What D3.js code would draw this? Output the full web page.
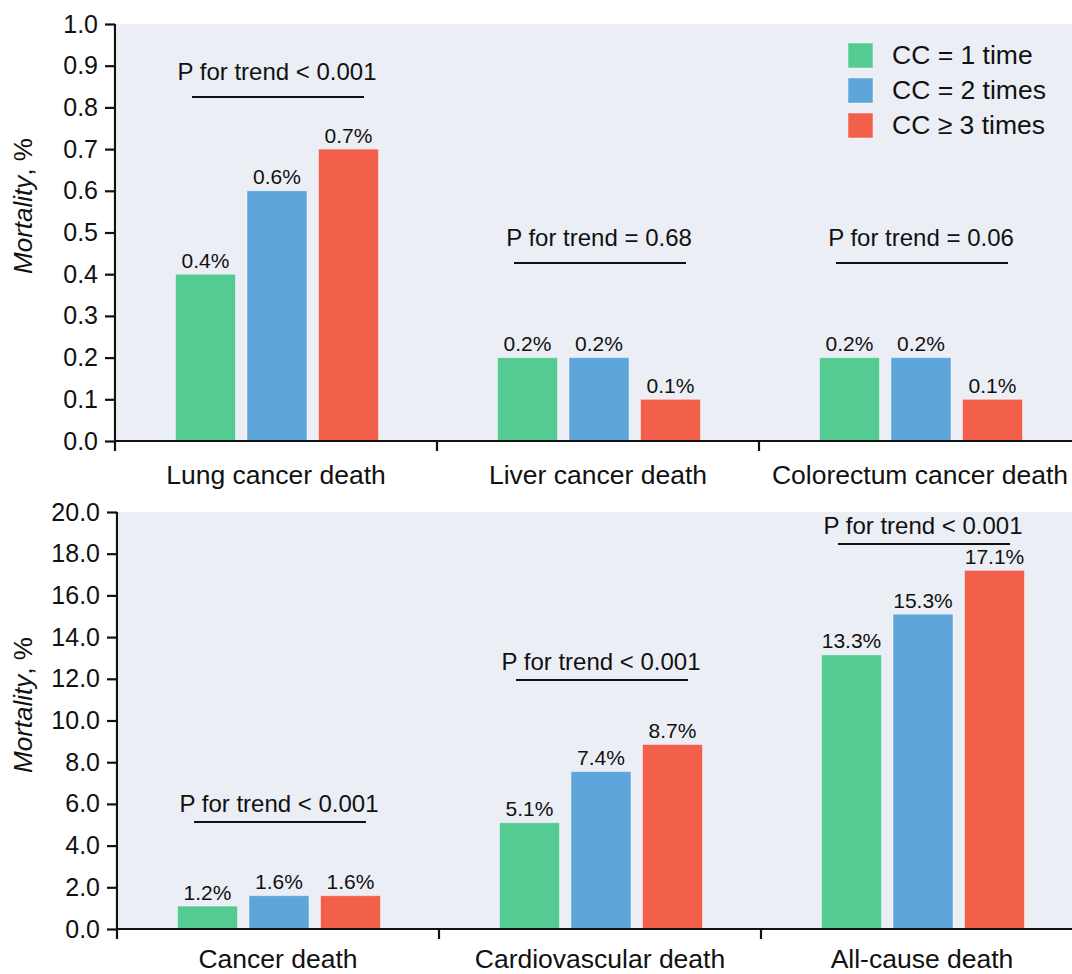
<!DOCTYPE html>
<html><head><meta charset="utf-8">
<script src="https://cdn.jsdelivr.net/npm/d3@7"></script>
<style>
html,body{margin:0;padding:0;background:#fff;}
svg{display:block;font-family:"Liberation Sans",Arial,Helvetica,sans-serif;}
</style></head>
<body>
<svg id="chart" width="1072" height="974"></svg>
<script>
// ---- data ----
const seriesNames = ["CC = 1 time", "CC = 2 times", "CC ≥ 3 times"];
const seriesColors = ["#55cb94", "#5da5db", "#f2604c"];

const topCategories = ["Lung cancer death", "Liver cancer death", "Colorectum cancer death"];
const topValues = [[0.4, 0.6, 0.7], [0.2, 0.2, 0.1], [0.2, 0.2, 0.1]];
const topLabels = [["0.4%", "0.6%", "0.7%"], ["0.2%", "0.2%", "0.1%"], ["0.2%", "0.2%", "0.1%"]];
const topTrendText = ["P for trend < 0.001", "P for trend = 0.68", "P for trend = 0.06"];
const topTrendLevel = [0.825, 0.427, 0.427];
const topTicks = [0, 0.1, 0.2, 0.3, 0.4, 0.5, 0.6, 0.7, 0.8, 0.9, 1.0];

const bottomCategories = ["Cancer death", "Cardiovascular death", "All-cause death"];
const bottomValues = [[1.1, 1.6, 1.6], [5.1, 7.55, 8.85], [13.15, 15.1, 17.2]];
const bottomLabels = [["1.2%", "1.6%", "1.6%"], ["5.1%", "7.4%", "8.7%"], ["13.3%", "15.3%", "17.1%"]];
const bottomTrendText = ["P for trend < 0.001", "P for trend < 0.001", "P for trend < 0.001"];
const bottomTrendLevel = [5.13, 11.94, 18.46];
const bottomTicks = [0, 2, 4, 6, 8, 10, 12, 14, 16, 18, 20];

const yTitle = ["Mortality", ", %"];

// ---- drawing ----
const svg = d3.select("#chart");
const ink = "#111";

function panel(cfg) {
  const g = svg.append("g");
  const x = d3.scaleBand().domain(cfg.categories).range([cfg.left, cfg.left + 966]).padding(0);
  const y = d3.scaleLinear().domain([0, cfg.ticks[cfg.ticks.length - 1]]).range([cfg.bottom, cfg.top]);
  const inner = d3.scaleBand().domain(seriesNames).range([-112, 114]).padding(0.161);

  // background
  g.append("rect").attr("x", cfg.left + 2).attr("y", cfg.top)
    .attr("width", 1072 - cfg.left - 2).attr("height", cfg.bottom - cfg.top)
    .attr("fill", "#eceef6");

  // bars
  cfg.categories.forEach((c, ci) => {
    const cx = x(c) + x.bandwidth() / 2;
    seriesNames.forEach((s, si) => {
      const v = cfg.values[ci][si];
      g.append("rect")
        .attr("x", cx + inner(s)).attr("width", inner.bandwidth())
        .attr("y", y(v)).attr("height", y(0) - y(v))
        .attr("fill", seriesColors[si])
        .attr("stroke", "rgba(255,255,255,0.45)").attr("stroke-width", 1);
      g.append("text")
        .attr("x", cx + inner(s) + inner.bandwidth() / 2)
        .attr("y", y(v) - 6.5)
        .attr("text-anchor", "middle").attr("font-size", 21).attr("fill", ink)
        .text(cfg.labels[ci][si]);
    });
    // trend line + text
    const ly = y(cfg.trendLevel[ci]);
    g.append("line").attr("x1", cx - 84).attr("x2", cx + 88)
      .attr("y1", ly).attr("y2", ly).attr("stroke", ink).attr("stroke-width", 2);
    g.append("text").attr("x", cx + 1).attr("y", ly - cfg.trendGap)
      .attr("text-anchor", "middle").attr("font-size", 24).attr("fill", ink)
      .text(cfg.trendText[ci]);
  });

  // y axis
  const yAxis = d3.axisLeft(y).tickValues(cfg.ticks).tickFormat(d3.format(".1f"))
    .tickSizeOuter(0).tickSize(10).tickPadding(7);
  const ya = g.append("g").attr("transform", `translate(${cfg.left},0)`).call(yAxis);
  ya.select(".domain").attr("stroke", ink).attr("stroke-width", 2.2)
    .attr("d", `M0,${cfg.top}V${cfg.bottom + 10}`);
  ya.selectAll(".tick line").attr("stroke", ink).attr("stroke-width", 2.2);
  ya.selectAll(".tick text").attr("font-size", 25).attr("fill", ink)
    .attr("font-family", "Liberation Sans, Arial, sans-serif");

  // x axis: baseline and separator ticks
  g.append("line").attr("x1", cfg.left).attr("x2", 1072)
    .attr("y1", cfg.bottom).attr("y2", cfg.bottom).attr("stroke", ink).attr("stroke-width", 2.2);
  cfg.categories.forEach((c, ci) => {
    if (ci > 0) {
      g.append("line").attr("x1", x(c)).attr("x2", x(c))
        .attr("y1", cfg.bottom).attr("y2", cfg.bottom + 10)
        .attr("stroke", ink).attr("stroke-width", 2.2);
    }
    g.append("text").attr("x", x(c) + x.bandwidth() / 2).attr("y", cfg.bottom + cfg.labelOffset)
      .attr("text-anchor", "middle").attr("font-size", 26.5).attr("fill", ink).text(c);
  });

  // y title
  const t = g.append("text")
    .attr("transform", `translate(${32},${cfg.titleY}) rotate(-90)`)
    .attr("text-anchor", "middle").attr("font-size", 26).attr("fill", ink);
  t.append("tspan").attr("font-style", "italic").text(yTitle[0]);
  t.append("tspan").text(yTitle[1]);
}

panel({
  categories: topCategories, values: topValues, labels: topLabels,
  trendText: topTrendText, trendLevel: topTrendLevel, trendGap: 17,
  ticks: topTicks, left: 115, top: 24, bottom: 441, titleY: 206, labelOffset: 43
});
panel({
  categories: bottomCategories, values: bottomValues, labels: bottomLabels,
  trendText: bottomTrendText, trendLevel: bottomTrendLevel, trendGap: 10,
  ticks: bottomTicks, left: 117, top: 512, bottom: 929, titleY: 705, labelOffset: 39
});

// legend
const lg = svg.append("g");
seriesNames.forEach((s, i) => {
  lg.append("rect").attr("x", 848).attr("y", 43 + i * 35).attr("width", 25).attr("height", 25)
    .attr("fill", seriesColors[i]).attr("stroke", "rgba(255,255,255,0.45)");
  lg.append("text").attr("x", 892).attr("y", 64 + i * 35)
    .attr("font-size", 26.5).attr("fill", ink).text(s);
});
</script>
</body></html>
